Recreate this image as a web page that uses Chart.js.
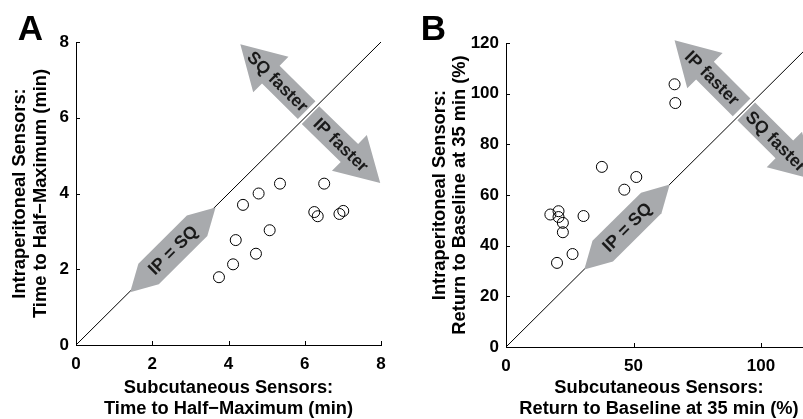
<!DOCTYPE html>
<html>
<head>
<meta charset="utf-8">
<script src="https://cdn.jsdelivr.net/npm/chart.js@4.4.0/dist/chart.umd.min.js"></script>
<style>
html,body{margin:0;padding:0;background:#fff;overflow:hidden;}
#wrap{position:relative;width:803px;height:419px;overflow:hidden;background:#fff;}
#chartA{position:absolute;left:0;top:0;}
#chartB{position:absolute;left:410px;top:0;}
</style>
</head>
<body>
<div id="wrap">
<canvas id="chartA" width="410" height="419"></canvas>
<canvas id="chartB" width="420" height="419"></canvas>
</div>
<script>
'use strict';
// panel A - time to half-maximum (min)
let sqTimeA=[3.75,4.12,4.19,4.38,4.79,4.72,5.08,5.35,6.51,6.25,6.34,6.91,7.01];
let ipTimeA=[1.79,2.13,2.77,3.70,4.00,2.41,3.03,4.26,4.26,3.51,3.40,3.46,3.54];
let ticksA=[0,2,4,6,8];
let limitA=[0,8];
// panel B - return to baseline at 35 min (%)
let sqReturnB=[17.4,20.6,20.6,22.3,22.3,20.0,26.1,30.4,37.6,46.4,51.1,66.1,66.4];
let ipReturnB=[52.3,53.6,51.3,49.0,45.3,33.2,36.7,51.7,71.1,62.1,67.1,103.7,96.3];
let ticksXB=[0,50,100];
let ticksYB=[0,20,40,60,80,100,120];
let limitB=[0,120];

let FONT='"Liberation Sans", Arial, Helvetica, sans-serif';
let GREY='#a8aaad';

// arrows (in data units of each panel)
let arrowsA=[
  {kind:'double',from:[1.42,1.39],to:[3.66,3.63],text:'IP = SQ'},
  {kind:'single',from:[6.05,6.20],to:[4.31,7.94],text:'SQ faster'},
  {kind:'single',from:[6.15,6.07],to:[7.98,4.28],text:'IP faster'}
];
let arrowsB=[
  {kind:'double',from:[30.7,30.6],to:[64.2,64.1],text:'IP = SQ'},
  {kind:'single',from:[92.4,94.6],to:[66.1,121.1],text:'IP faster'},
  {kind:'single',from:[94.2,93.0],to:[121.1,66.0],text:'SQ faster'}
];

function px(chart,p)
{
  return [chart.scales.x.getPixelForValue(p[0]),chart.scales.y.getPixelForValue(p[1])];
}

function drawArrow(ctx,chart,a)
{
  let b=px(chart,a.from);
  let t=px(chart,a.to);
  let dx=t[0]-b[0], dy=t[1]-b[1];
  let len=Math.sqrt(dx*dx+dy*dy);
  let u=[dx/len,dy/len];
  let n=[-u[1],u[0]];
  ctx.fillStyle=GREY;
  ctx.beginPath();
  if(a.kind==='double')
  {
    let w=14.5, h=26;
    let p1=[b[0]+u[0]*h,b[1]+u[1]*h];
    let p2=[t[0]-u[0]*h,t[1]-u[1]*h];
    ctx.moveTo(b[0],b[1]);
    ctx.lineTo(p1[0]+n[0]*w,p1[1]+n[1]*w);
    ctx.lineTo(p2[0]+n[0]*w,p2[1]+n[1]*w);
    ctx.lineTo(t[0],t[1]);
    ctx.lineTo(p2[0]-n[0]*w,p2[1]-n[1]*w);
    ctx.lineTo(p1[0]-n[0]*w,p1[1]-n[1]*w);
  }
  else
  {
    let sw=12.5, hw=25, hl=43;
    let hp=[t[0]-u[0]*hl,t[1]-u[1]*hl];
    ctx.moveTo(b[0]+n[0]*sw,b[1]+n[1]*sw);
    ctx.lineTo(hp[0]+n[0]*sw,hp[1]+n[1]*sw);
    ctx.lineTo(hp[0]+n[0]*hw,hp[1]+n[1]*hw);
    ctx.lineTo(t[0],t[1]);
    ctx.lineTo(hp[0]-n[0]*hw,hp[1]-n[1]*hw);
    ctx.lineTo(hp[0]-n[0]*sw,hp[1]-n[1]*sw);
    ctx.lineTo(b[0]-n[0]*sw,b[1]-n[1]*sw);
  }
  ctx.closePath();
  ctx.fill();

  // label along the arrow
  let cx=(b[0]+t[0])/2, cy=(b[1]+t[1])/2;
  if(a.kind==='single'){cx-=u[0]*6;cy-=u[1]*6;}
  let ang=Math.atan2(dy,dx);
  if(dx<0){ang+=Math.PI;}
  ctx.save();
  ctx.translate(cx,cy);
  ctx.rotate(ang);
  ctx.fillStyle='#1a1a1a';
  ctx.font='bold 17.5px '+FONT;
  ctx.textAlign='center';
  ctx.textBaseline='middle';
  ctx.fillText(a.text,0,1);
  ctx.restore();
}

function decor(opt)
{
  return {
    id:'decor',
    afterDatasetsDraw(chart)
    {
      let ctx=chart.ctx;
      ctx.save();
      for(let i=0;i<opt.arrows.length;i++){drawArrow(ctx,chart,opt.arrows[i]);}
      ctx.restore();
    },
    afterDraw(chart)
    {
      let ctx=chart.ctx;
      let area=chart.chartArea;
      let xs=chart.scales.x, ys=chart.scales.y;
      ctx.save();
      // inward tick marks
      ctx.strokeStyle='#000';
      ctx.lineWidth=1;
      ctx.beginPath();
      for(let i=0;i<opt.xTicks.length;i++)
      {
        let x=Math.round(xs.getPixelForValue(opt.xTicks[i]))+0.5;
        ctx.moveTo(x,area.bottom);ctx.lineTo(x,area.bottom-4);
      }
      for(let i=0;i<opt.yTicks.length;i++)
      {
        let y=Math.round(ys.getPixelForValue(opt.yTicks[i]))+0.5;
        ctx.moveTo(area.left,y);ctx.lineTo(area.left+4,y);
      }
      ctx.stroke();
      ctx.fillStyle='#000';
      // panel letter
      ctx.font='bold 35px '+FONT;
      ctx.textAlign='center';
      ctx.textBaseline='alphabetic';
      ctx.fillText(opt.letter,opt.letterX,40);
      // x title
      ctx.font='bold 18.3px '+FONT;
      let midX=(area.left+area.right)/2;
      ctx.fillText(opt.xTitle[0],midX,392.5);
      ctx.fillText(opt.xTitle[1],midX,413.5);
      // y title
      let midY=(area.top+area.bottom)/2;
      for(let i=0;i<2;i++)
      {
        ctx.save();
        ctx.translate(area.left-opt.yTitleOff[i],midY);
        ctx.rotate(-Math.PI/2);
        ctx.fillText(opt.yTitle[i],0,0);
        ctx.restore();
      }
      ctx.restore();
    }
  };
}

function axis(lim,tickArr,size,pad,isX)
{
  return {
    type:'linear',
    min:lim[0],
    max:lim[1],
    grid:{display:false,drawTicks:false},
    border:{display:true,color:'#000',width:1},
    afterBuildTicks:function(scale){scale.ticks=tickArr.map(function(v){return {value:v};});},
    afterFit:function(scale){if(isX){scale.height=size;}else{scale.width=size;}},
    ticks:{color:'#000',padding:pad,font:{family:FONT,size:17,weight:'bold'}}
  };
}

function makeChart(id,sq,ip,lim,xt,yt,xSize,ySize,pad,opt)
{
  let pts=[];
  for(let i=0;i<sq.length;i++){pts.push({x:sq[i],y:ip[i]});}
  return new Chart(document.getElementById(id),{
    type:'scatter',
    data:{
      datasets:[{
        type:'line',
        data:[{x:lim[0],y:lim[0]},{x:lim[1],y:lim[1]}],
        borderColor:'#000',
        borderWidth:1,
        pointRadius:0,
        fill:false
      },{
        data:pts,
        pointStyle:'circle',
        pointRadius:5.5,
        pointHoverRadius:5.5,
        borderWidth:1,
        borderColor:'#000',
        backgroundColor:'rgba(0,0,0,0)'
      }]
    },
    options:{
      responsive:false,
      animation:false,
      events:[],
      layout:{padding:pad},
      plugins:{legend:{display:false},tooltip:{enabled:false}},
      scales:{
        x:axis(lim,xt,xSize,9,true),
        y:axis(lim,yt,ySize,7,false)
      }
    },
    plugins:[decor(opt)]
  });
}

makeChart('chartA',sqTimeA,ipTimeA,limitA,ticksA,ticksA,74,76,{top:42,right:29,left:0,bottom:0},{
  arrows:arrowsA,xTicks:ticksA,yTicks:ticksA,letter:'A',letterX:30.5,
  xTitle:['Subcutaneous Sensors:','Time to Half\u2212Maximum (min)'],
  yTitle:['Intraperitoneal Sensors:','Time to Half\u2212Maximum (min)'],
  yTitleOff:[51,30]
});

makeChart('chartB',sqReturnB,ipReturnB,limitB,ticksXB,ticksYB,72,96,{top:43,right:18,left:0,bottom:0},{
  arrows:arrowsB,xTicks:ticksXB,yTicks:ticksYB,letter:'B',letterX:23.5,
  xTitle:['Subcutaneous Sensors:','Return to Baseline at 35 min (%)'],
  yTitle:['Intraperitoneal Sensors:','Return to Baseline at 35 min (%)'],
  yTitleOff:[61,41]
});
</script>
</body>
</html>
